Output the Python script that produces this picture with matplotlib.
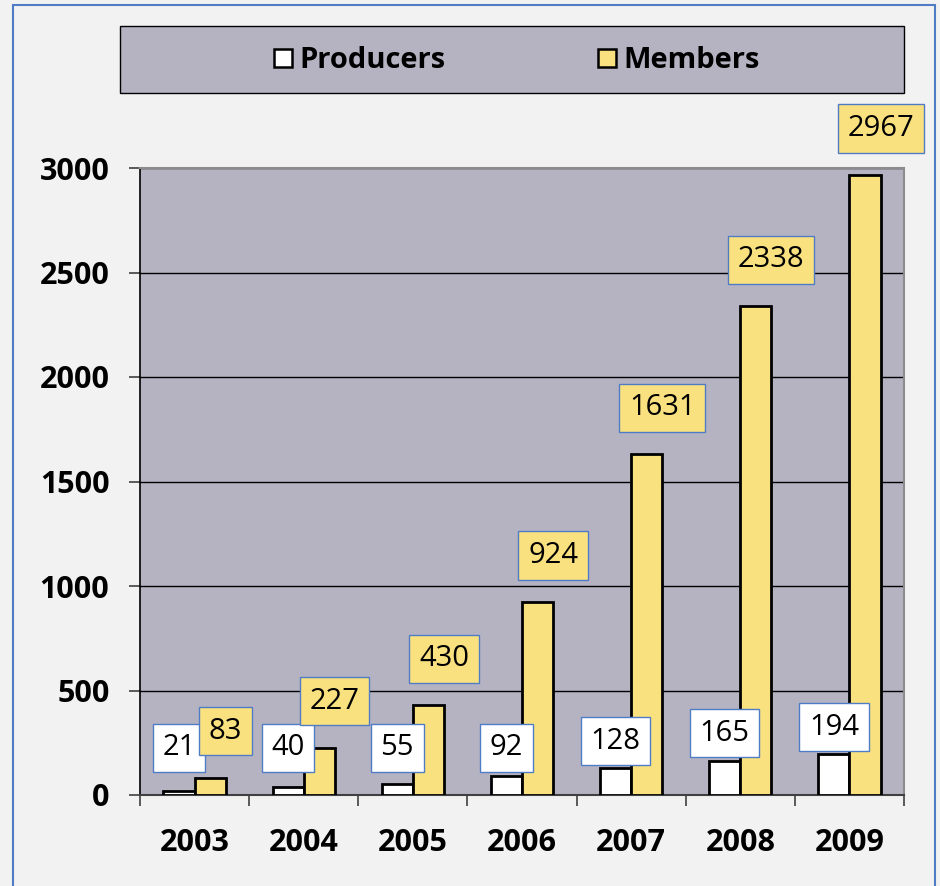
import numpy as np
import matplotlib
matplotlib.use("Agg")
from matplotlib import pyplot as plt
from matplotlib.patches import Rectangle, Patch

years = ['2003', '2004', '2005', '2006', '2007', '2008', '2009']
producers = [21, 40, 55, 92, 128, 165, 194]
members = [83, 227, 430, 924, 1631, 2338, 2967]

BG = '#F2F2F2'
PLOT_BG = '#B5B3C2'
YELLOW = '#F9E17F'
BLUE = '#4F7CC4'


def draw_chart():
    plt.rcParams['font.family'] = ['Open Sans', 'DejaVu Sans']
    fig = plt.figure(figsize=(9.4, 8.86), dpi=100, facecolor=BG)

    # outer blue frame
    fig.patches.append(Rectangle((13 / 940, -0.02), 922 / 940, 1 - 5 / 886 + 0.02,
                                 transform=fig.transFigure, fill=False,
                                 edgecolor=BLUE, linewidth=1.5, zorder=0))

    ax = fig.add_axes([140 / 940, 91 / 886, 764 / 940, 627 / 886])
    ax.set_facecolor(PLOT_BG)

    x = np.arange(len(years))
    w = 0.285
    ax.bar(x - w / 2, producers, w, color='white', edgecolor='black', linewidth=2, zorder=3)
    ax.bar(x + w / 2, members, w, color=YELLOW, edgecolor='black', linewidth=2, zorder=3)

    for i in range(len(years)):
        ax.text(x[i] - w / 2, max(producers[i] + 130, 225), str(producers[i]),
                ha='center', va='center', fontsize=21, zorder=5, clip_on=False,
                bbox=dict(boxstyle='square,pad=0.33', facecolor='white', edgecolor=BLUE, linewidth=1))
        ax.text(x[i] + w, members[i] + 222, str(members[i]),
                ha='center', va='center', fontsize=21, zorder=5, clip_on=False,
                bbox=dict(boxstyle='square,pad=0.33', facecolor=YELLOW, edgecolor=BLUE, linewidth=1))

    ax.set_xlim(-0.5, len(years) - 0.5)
    ax.set_ylim(0, 3000)
    ax.set_yticks(np.arange(0, 3001, 500))
    ax.yaxis.grid(True, color='black', linewidth=1, zorder=1)
    ax.set_axisbelow(True)

    ax.set_xticks(x)
    ax.set_xticklabels(years, fontsize=22, fontweight='bold')
    ax.set_xticks(np.arange(-0.5, len(years), 1), minor=True)
    ax.tick_params(axis='x', which='major', length=0, pad=24)
    ax.tick_params(axis='x', which='minor', length=8, width=1.2, direction='out', color='#404040')
    ax.tick_params(axis='y', length=8, width=1.2, direction='out', pad=14, labelsize=22, color='#404040')
    for lbl in ax.get_yticklabels():
        lbl.set_fontweight('bold')

    ax.spines['left'].set_color('black')
    ax.spines['left'].set_linewidth(1.2)
    ax.spines['bottom'].set_color('#404040')
    ax.spines['bottom'].set_linewidth(1.5)
    ax.spines['top'].set_color('#8C8C8C')
    ax.spines['right'].set_color('#8C8C8C')
    ax.spines['top'].set_linewidth(1.5)
    ax.spines['right'].set_linewidth(1.5)

    # legend box across the top
    fig.patches.append(Rectangle((120 / 940, 1 - 93 / 886), 784 / 940, 67 / 886,
                                 transform=fig.transFigure, facecolor=PLOT_BG,
                                 edgecolor='black', linewidth=1, zorder=1))
    handles = [Patch(facecolor='white', edgecolor='black', linewidth=1.8),
               Patch(facecolor=YELLOW, edgecolor='black', linewidth=1.8)]
    leg = fig.legend(handles, ['Producers', 'Members'], loc='center',
                     bbox_to_anchor=(517 / 940, 1 - 61 / 886), ncol=2, frameon=False,
                     prop={'size': 21, 'weight': 'bold'}, handlelength=0.6, handleheight=0.6,
                     handletextpad=0.25, columnspacing=5.25)
    leg.set_zorder(2)

    fig.savefig('out.png', dpi=100, facecolor=BG)
    plt.close(fig)


if __name__ == "__main__":
    draw_chart()
